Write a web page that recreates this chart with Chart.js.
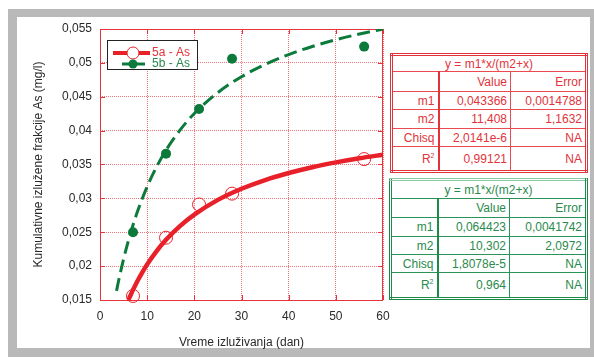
<!DOCTYPE html>
<html>
<head>
<meta charset="utf-8">
<script src="https://cdn.jsdelivr.net/npm/chart.js@4.4.1/dist/chart.umd.min.js"></script>
<style>
  body { margin: 0; width: 594px; height: 358px; position: relative; overflow: hidden; background: #fff; font-family: "Liberation Sans", Arial, sans-serif; }
  #frame { position: absolute; left: 8px; top: 9px; width: 586px; height: 348px; background: #b9b9b9; }
  #inner { position: absolute; left: 17px; top: 17px; width: 573px; height: 331px; background: #fff; }
  #chart { position: absolute; left: 0; top: 0; }
  .fit { position: absolute; border-collapse: collapse; font-size: 12px; background: #fff; }
  .fit td { padding: 0 3px; text-align: right; white-space: nowrap; box-sizing: border-box; }
  .fit td.title { text-align: center; }
  .red { color: #e2333b; border: 3px double #e2333b; }
  .red td { border: 1px solid #ea4a50; }
  .red td.c1 { border-right: 2px solid #e2333b; }
  .green { color: #2a8a4c; border: 3px double #1d8a4a; border-top-color: #8cc9a4; }
  .green td { border: 1px solid #2a9458; }
  .green td.c1 { border-right: 2px solid #1d8a4a; }
  sup { font-size: 7px; }
</style>
</head>
<body>
<div id="frame"></div>
<div id="inner"></div>
<canvas id="chart" width="594" height="358"></canvas>

<table class="fit red" style="left:390px; top:53px; width:198px; height:120px;">
  <tr style="height:17px"><td class="title" colspan="3">y = m1*x/(m2+x)</td></tr>
  <tr style="height:19px"><td class="c1" style="width:47px"></td><td style="width:72px">Value</td><td>Error</td></tr>
  <tr style="height:18px"><td class="c1">m1</td><td>0,043366</td><td>0,0014788</td></tr>
  <tr style="height:18px"><td class="c1">m2</td><td>11,408</td><td>1,1632</td></tr>
  <tr style="height:18px"><td class="c1">Chisq</td><td>2,0141e-6</td><td>NA</td></tr>
  <tr style="height:24px"><td class="c1">R<sup>2</sup></td><td>0,99121</td><td>NA</td></tr>
</table>

<table class="fit green" style="left:389px; top:178px; width:199px; height:122px;">
  <tr style="height:19px"><td class="title" colspan="3">y = m1*x/(m2+x)</td></tr>
  <tr style="height:18px"><td class="c1" style="width:47px"></td><td style="width:72px">Value</td><td>Error</td></tr>
  <tr style="height:19px"><td class="c1">m1</td><td>0,064423</td><td>0,0041742</td></tr>
  <tr style="height:17px"><td class="c1">m2</td><td>10,302</td><td>2,0972</td></tr>
  <tr style="height:18px"><td class="c1">Chisq</td><td>1,8078e-5</td><td>NA</td></tr>
  <tr style="height:25px"><td class="c1">R<sup>2</sup></td><td>0,964</td><td>NA</td></tr>
</table>

<script>
// measured points (days, mg/l)
const days = [7, 14, 21, 28, 56];
const as5a = [0.0156, 0.0242, 0.0291, 0.0307, 0.0358];
const as5b = [0.0250, 0.0366, 0.0432, 0.0506, 0.0524];

// fitted curves
const fitAX = [6.03, 7, 8, 9, 10, 12, 14, 17, 20, 25, 30, 35, 40, 45, 50, 55, 60];
const fitAY = [0.0150, 0.01649, 0.01788, 0.01912, 0.02026, 0.02223, 0.02389, 0.02595, 0.02761, 0.02978, 0.03142, 0.03271, 0.03374, 0.03460, 0.03531, 0.03592, 0.03644];
const fitBX = [3.5, 4, 5, 6, 7, 8, 10, 12, 14, 17, 20, 25, 30, 35, 40, 45, 50, 55, 60];
const fitBY = [0.01634, 0.01802, 0.02105, 0.02371, 0.02606, 0.02816, 0.03173, 0.03466, 0.03711, 0.04011, 0.04252, 0.04562, 0.04796, 0.04977, 0.05123, 0.05242, 0.05342, 0.05426, 0.05498];

const seriesNames = ['5a - As', '5b - As'];
const RED = '#e8202a';
const GREEN = '#0b7a3b';
const GRID = 'rgba(236, 70, 78, 0.75)';

const pts = (xs, ys) => xs.map((x, i) => ({ x: x, y: ys[i] }));
const fmt = v => String(Number(v.toFixed(3))).replace('.', ',');

// plot border + short inner ticks
const framePlugin = {
    id: 'plotFrame',
    beforeDatasetsDraw(chart) {
        const { ctx, chartArea: a, scales } = chart;
        ctx.save();
        ctx.strokeStyle = '#e8323c';
        ctx.lineWidth = 1;
        ctx.strokeRect(a.left + 0.5, a.top + 0.5, a.right - a.left - 1, a.bottom - a.top);
        ctx.beginPath();
        scales.x.ticks.forEach(t => {
            const px = Math.round(scales.x.getPixelForValue(t.value)) + 0.5;
            ctx.moveTo(px, a.top); ctx.lineTo(px, a.top + 5);
            ctx.moveTo(px, a.bottom); ctx.lineTo(px, a.bottom - 5);
        });
        scales.y.ticks.forEach(t => {
            const py = Math.round(scales.y.getPixelForValue(t.value)) + 0.5;
            ctx.moveTo(a.left, py); ctx.lineTo(a.left + 5, py);
            ctx.moveTo(a.right, py); ctx.lineTo(a.right - 5, py);
        });
        ctx.stroke();
        ctx.restore();
    }
};

// boxed legend inside the plot
const legendPlugin = {
    id: 'boxLegend',
    afterDatasetsDraw(chart) {
        const ctx = chart.ctx;
        ctx.save();
        ctx.fillStyle = '#fff';
        ctx.fillRect(107, 40, 90, 29);
        ctx.strokeStyle = '#222';
        ctx.lineWidth = 1;
        ctx.strokeRect(107.5, 40.5, 90, 29);

        ctx.strokeStyle = RED; ctx.lineWidth = 4;
        ctx.beginPath(); ctx.moveTo(113, 53); ctx.lineTo(150, 53); ctx.stroke();
        ctx.fillStyle = '#fff'; ctx.lineWidth = 1;
        ctx.beginPath(); ctx.arc(133, 53, 6, 0, Math.PI * 2); ctx.fill(); ctx.stroke();

        ctx.strokeStyle = GREEN; ctx.lineWidth = 3;
        ctx.beginPath(); ctx.moveTo(122, 64); ctx.lineTo(145, 64); ctx.stroke();
        ctx.fillStyle = GREEN;
        ctx.beginPath(); ctx.arc(133, 64, 4.5, 0, Math.PI * 2); ctx.fill();

        ctx.font = '12px "Liberation Sans", Arial, sans-serif';
        ctx.textBaseline = 'middle';
        ctx.fillStyle = '#e2333b'; ctx.fillText(seriesNames[0], 152, 53);
        ctx.fillStyle = '#2a8a4c'; ctx.fillText(seriesNames[1], 152, 64);
        ctx.restore();
    }
};

new Chart(document.getElementById('chart'), {
    type: 'scatter',
    data: {
        datasets: [
            { label: seriesNames[0] + ' fit', type: 'line', data: pts(fitAX, fitAY), borderColor: RED, borderWidth: 4.5, pointRadius: 0, fill: false, cubicInterpolationMode: 'monotone' },
            { label: seriesNames[1] + ' fit', type: 'line', data: pts(fitBX, fitBY), borderColor: GREEN, borderWidth: 3, borderDash: [13, 6], pointRadius: 0, fill: false, cubicInterpolationMode: 'monotone' },
            { label: seriesNames[0], data: pts(days, as5a), pointRadius: 6.5, pointBorderWidth: 1, pointBorderColor: RED, pointBackgroundColor: 'rgba(0,0,0,0)', clip: false },
            { label: seriesNames[1], data: pts(days, as5b), pointRadius: 5, pointBorderWidth: 0, pointBackgroundColor: GREEN, pointBorderColor: GREEN, clip: false }
        ]
    },
    options: {
        responsive: false,
        animation: false,
        layout: { padding: { left: 27, right: 211, top: 29, bottom: 8 } },
        plugins: { legend: { display: false }, tooltip: { enabled: false } },
        scales: {
            x: {
                type: 'linear', min: 0, max: 60,
                ticks: { stepSize: 10, padding: 9, color: '#2a2a2a', font: { size: 12, family: '"Liberation Sans", Arial, sans-serif' } },
                grid: { color: GRID, drawTicks: false, lineWidth: 1 },
                border: { display: false, dash: [1, 1] },
                title: { display: true, text: 'Vreme izluživanja (dan)', color: '#2a2a2a', font: { size: 12, family: '"Liberation Sans", Arial, sans-serif' }, padding: { top: 4, bottom: 0 } },
                afterFit: s => { s.height = 50; }
            },
            y: {
                type: 'linear', min: 0.015, max: 0.055,
                ticks: { stepSize: 0.005, padding: 8, color: '#2a2a2a', callback: v => fmt(v), font: { size: 12, family: '"Liberation Sans", Arial, sans-serif' } },
                grid: { color: GRID, drawTicks: false, lineWidth: 1 },
                border: { display: false, dash: [1, 1] },
                title: { display: true, text: 'Kumulativne izlužene frakcije As (mg/l)', color: '#2a2a2a', font: { size: 12, family: '"Liberation Sans", Arial, sans-serif' }, padding: { top: 4, bottom: 0 } },
                afterFit: s => { s.width = 73; }
            }
        }
    },
    plugins: [framePlugin, legendPlugin]
});
</script>
</body>
</html>
